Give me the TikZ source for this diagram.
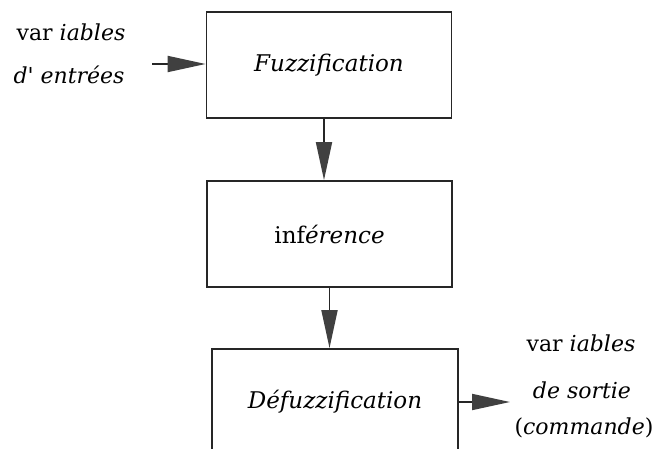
\documentclass[tikz,border=0pt]{standalone}
\usepackage{fontspec}
\setmainfont{DejaVu Serif}
\usetikzlibrary{arrows.meta}
\begin{document}
\begin{tikzpicture}[x=1pt,y=-1pt,
  box/.style={draw=black!85,line width=1.8pt,fill=white,minimum width=245pt,minimum height=106pt,inner sep=0pt,font=\fontsize{23}{27}\selectfont},
  lbl/.style={font=\fontsize{22}{26}\selectfont,inner sep=0pt},
  arr/.style={line width=1.8pt,draw=black!85,-{Triangle[length=38pt,width=16pt,fill=black!75,color=black!75]}}]
\clip (0,0) rectangle (655,449);
\fill[white] (0,0) rectangle (655,449);
\node[box] (fuzz) at (329,65) {\itshape Fuzzification};
\node[box] (inf) at (329.5,234) {inf\textit{érence}};
\node[box,minimum width=246pt] (defuz) at (335,402) {\itshape Défuzzification};
\node[lbl] (in1) at (71,32) {var \textit{iables}};
\node[lbl] (in2) at (69,75) {\textit{d\textquotesingle\ entrées}};
\node[lbl] (out1) at (581,343) {var \textit{iables}};
\node[lbl] (out2) at (582,390) {\textit{de sortie}};
\node[lbl] (out3) at (584,428) {(\textit{commande})};
\coordinate (inp) at (152,64);
\coordinate (outp) at (510,402);
\draw[arr] (inp) -- (inp -| fuzz.west);
\draw[arr] ([xshift=-5pt]fuzz.south) -- ([xshift=-5pt]fuzz.south |- inf.north);
\draw[arr] (inf.south) -- (inf.south |- defuz.north);
\draw[arr] (defuz.east) -- (outp);
\end{tikzpicture}
\end{document}
